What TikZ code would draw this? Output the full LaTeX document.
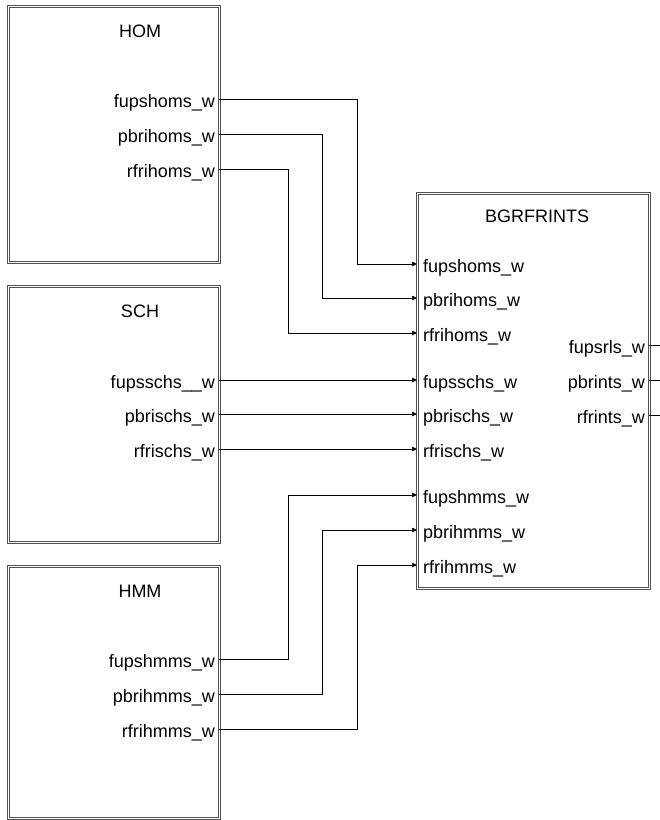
\documentclass[tikz,border=0pt]{standalone}
\usepackage{fontspec}
\setmainfont{Liberation Sans}
\usepackage{xcolor}
\usetikzlibrary{arrows.meta,positioning}
\definecolor{frame}{HTML}{505050}

\begin{document}
\begin{tikzpicture}[
  x=1pt, y=-1pt,
  block/.style={rectangle, draw=frame, double=white, double distance=1.1pt, line width=0.7pt, anchor=north west, inner sep=0pt, minimum width=211pt},
  title/.style={font=\fontsize{18}{20}\selectfont},
  inport/.style={anchor=west, inner xsep=6pt, inner ysep=0pt, text height=16pt, text depth=0pt, font=\fontsize{18}{20}\selectfont},
  outport/.style={anchor=east, inner xsep=4pt, inner ysep=0pt, text height=16pt, text depth=0pt, font=\fontsize{18}{20}\selectfont},
  wire/.style={-{Triangle[length=5pt, width=4.5pt]}, line width=0.7pt},
  stub/.style={line width=0.7pt}
]
\useasboundingbox (0,0) rectangle (660,820);

% source blocks
\node[block, minimum height=256pt] (hom) at (8,6) {};
\node[block, minimum height=256pt] (sch) at (8,286) {};
\node[block, minimum height=252pt] (hmm) at (8,566) {};
\node[block, minimum width=232pt, minimum height=395pt] (bgr) at (417,193) {};

\node[title] (homtitle) at (140,31) {HOM};
\node[title] (schtitle) at (140,311) {SCH};
\node[title] (hmmtitle) at (140,591) {HMM};
\node[title] (bgrtitle) at (537,216) {BGRFRINTS};

% output ports of the source blocks
\node[outport] (homfups) at (219,99) {fupshoms\_w};
\node[outport] (hompbri) at (219,134) {pbrihoms\_w};
\node[outport] (homrfri) at (219,169) {rfrihoms\_w};
\node[outport] (schfups) at (219,380) {fupsschs\_\_w};
\node[outport] (schpbri) at (219,414) {pbrischs\_w};
\node[outport] (schrfri) at (219,449) {rfrischs\_w};
\node[outport] (hmmfups) at (219,659) {fupshmms\_w};
\node[outport] (hmmpbri) at (219,694) {pbrihmms\_w};
\node[outport] (hmmrfri) at (219,729) {rfrihmms\_w};

% input ports of BGRFRINTS
\node[inport] (infupshoms) at (417,264) {fupshoms\_w};
\node[inport] (inpbrihoms) at (417,298) {pbrihoms\_w};
\node[inport] (inrfrihoms) at (417,333) {rfrihoms\_w};
\node[inport] (infupsschs) at (417,380) {fupsschs\_w};
\node[inport] (inpbrischs) at (417,414) {pbrischs\_w};
\node[inport] (inrfrischs) at (417,449) {rfrischs\_w};
\node[inport] (infupshmms) at (417,495) {fupshmms\_w};
\node[inport] (inpbrihmms) at (417,530) {pbrihmms\_w};
\node[inport] (inrfrihmms) at (417,565) {rfrihmms\_w};

% output ports of BGRFRINTS
\node[outport] (outfupsrls) at (649,345) {fupsrls\_w};
\node[outport] (outpbrints) at (649,380) {pbrints\_w};
\node[outport] (outrfrints) at (649,415) {rfrints\_w};
\coordinate (endfupsrls) at (660,345);
\coordinate (endpbrints) at (660,380);
\coordinate (endrfrints) at (660,415);

% connections
\draw[wire] (homfups.east) -- ++(138,0) |- (infupshoms.west);
\draw[wire] (hompbri.east) -- ++(103,0) |- (inpbrihoms.west);
\draw[wire] (homrfri.east) -- ++(69,0) |- (inrfrihoms.west);
\draw[wire] (schfups.east) -- (infupsschs.west);
\draw[wire] (schpbri.east) -- (inpbrischs.west);
\draw[wire] (schrfri.east) -- (inrfrischs.west);
\draw[wire] (hmmfups.east) -- ++(69,0) |- (infupshmms.west);
\draw[wire] (hmmpbri.east) -- ++(103,0) |- (inpbrihmms.west);
\draw[wire] (hmmrfri.east) -- ++(138,0) |- (inrfrihmms.west);

\draw[stub] (outfupsrls.east) -- (endfupsrls);
\draw[stub] (outpbrints.east) -- (endpbrints);
\draw[stub] (outrfrints.east) -- (endrfrints);
\end{tikzpicture}
\end{document}
